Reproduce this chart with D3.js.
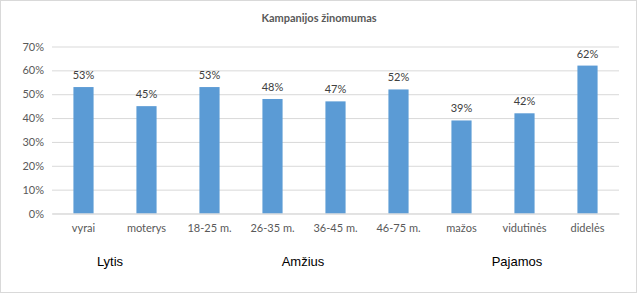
<!DOCTYPE html>
<html><head><meta charset="utf-8">
<script src="https://cdn.jsdelivr.net/npm/d3@7"></script>
<style>body{margin:0;background:#fff}svg{display:block}text{font-family:"Lato","Liberation Sans",sans-serif}</style>
</head><body><svg id="c" width="638" height="294"></svg>
<script>
const categories = ["vyrai","moterys","18-25 m.","26-35 m.","36-45 m.","46-75 m.","mažos","vidutinės","didelės"];
const values = [53,45,53,48,47,52,39,42,62];
const yTicks = [0,10,20,30,40,50,60,70];
const groups = ["Lytis","Amžius","Pajamos"];
const title = "Kampanijos  žinomumas";

const svg = d3.select("#c");
svg.append("rect").attr("x",0.5).attr("y",0.5).attr("width",636).attr("height",292)
  .attr("fill","#fff").attr("stroke","#D9D9D9");
const L=52,R=619,T=46.5,B=213.5;
const x = d3.scaleBand().domain(categories).range([L,R]).paddingInner(0.68).paddingOuter(0.34);
const y = d3.scaleLinear().domain([0,70]).range([B,T]);

svg.append("text").attr("x",319).attr("y",22).attr("text-anchor","middle")
  .attr("font-size",11).attr("font-weight","bold").attr("fill","#595959").text(title);

const grid = svg.append("g").attr("transform",`translate(${L},0)`)
  .call(d3.axisLeft(y).tickValues(yTicks).tickSize(-(R-L)).tickFormat(d=>d+"%"));
grid.select(".domain").remove();
grid.selectAll(".tick line").attr("stroke","#D9D9D9");
grid.selectAll(".tick text").attr("x",-8).attr("fill","#595959").attr("font-size",11);

svg.selectAll("rect.bar").data(values).join("rect").attr("class","bar")
  .attr("x",(d,i)=>x(categories[i])).attr("width",x.bandwidth())
  .attr("y",d=>y(d)).attr("height",d=>B-y(d)).attr("fill","#5B9BD5");

svg.selectAll("text.val").data(values).join("text").attr("class","val")
  .attr("x",(d,i)=>x(categories[i])+x.bandwidth()/2).attr("y",d=>y(d)-8)
  .attr("text-anchor","middle").attr("font-size",11).attr("fill","#404040").text(d=>d+"%");

const xa = svg.append("g").attr("transform",`translate(0,${B})`).call(d3.axisBottom(x).tickSize(0));
xa.select(".domain").attr("stroke","#D9D9D9");
xa.selectAll(".tick text").attr("dy","1.45em").attr("fill","#595959").attr("font-size",11);

const gx = [110,303,517];
svg.selectAll("text.grp").data(groups).join("text").attr("class","grp")
  .attr("x",(d,i)=>gx[i]).attr("y",266).attr("text-anchor","middle")
  .style("font-family","'Liberation Sans',Arial,sans-serif")
  .attr("font-size",13).attr("fill","#000").text(d=>d);
</script></body></html>
